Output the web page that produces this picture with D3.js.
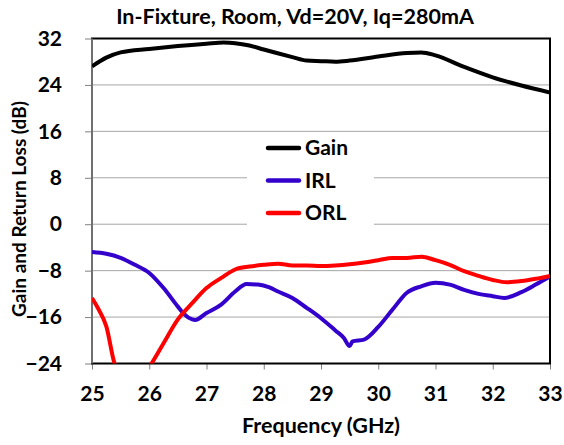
<!DOCTYPE html>
<html><head><meta charset="utf-8">
<script src="https://cdn.jsdelivr.net/npm/d3@7"></script>
<style>body{margin:0;background:#fff}svg{display:block}text{font-family:Lato,"Open Sans",sans-serif;font-weight:bold}</style>
</head><body>
<svg id="c" width="564" height="445"></svg>
<script>
const freqGain = [25,25.25,25.5,26,26.5,27,27.3,27.5,27.75,28,28.5,28.75,29,29.25,29.5,30,30.5,30.75,31,31.5,32,32.5,33];
const gain     = [27.2,28.7,29.6,30.2,30.7,31.1,31.3,31.2,30.8,30.1,28.8,28.2,28.1,28.0,28.2,28.9,29.5,29.6,29.1,27.1,25.3,23.9,22.7];

const freqIRL = [25,25.25,25.5,25.75,26,26.25,26.5,26.6,26.75,26.8,27,27.25,27.5,27.7,27.9,28.1,28.25,28.5,28.75,29,29.25,29.4,29.5,29.55,29.75,30,30.25,30.5,30.75,31,31.25,31.5,31.75,32,32.2,32.5,32.75,33];
const irl     = [-4.8,-5.1,-5.8,-7.0,-8.4,-11.0,-14.2,-15.4,-16.4,-16.5,-15.3,-13.9,-11.6,-10.3,-10.4,-10.9,-11.6,-12.7,-14.4,-16.2,-18.3,-19.6,-21.0,-20.2,-19.9,-17.7,-14.7,-11.8,-10.7,-10.1,-10.4,-11.3,-12.0,-12.4,-12.7,-11.7,-10.4,-9.0];

const freqORL = [25,25.1,25.25,25.4,25.7,26.04,26.25,26.5,26.75,27,27.25,27.5,27.75,28,28.25,28.5,28.75,29,29.25,29.5,29.75,30,30.25,30.5,30.75,31,31.25,31.5,31.75,32,32.25,32.5,32.75,33];
const orl     = [-12.7,-14.4,-17.6,-24.2,-28,-24,-20.5,-16.4,-13.6,-11.0,-9.3,-7.8,-7.3,-7.0,-6.8,-7.1,-7.1,-7.2,-7.1,-6.9,-6.6,-6.2,-5.8,-5.8,-5.6,-6.2,-7.0,-8.1,-8.9,-9.6,-10.0,-9.8,-9.4,-8.9];

const xTicks = [25,26,27,28,29,30,31,32,33];
const yTicks = [-24,-16,-8,0,8,16,24,32];
const seriesNames = ["Gain","IRL","ORL"];
const seriesColors = ["#000000","#3300CC","#FF0000"];

const L=92,R=550,T=38.5,B=363.5;
const svg=d3.select("#c");
const x=d3.scaleLinear().domain([25,33]).range([L,R]);
const y=d3.scaleLinear().domain([-24,32]).range([B,T]);

svg.append("defs").append("clipPath").attr("id","clip").append("rect")
  .attr("x",L).attr("y",T).attr("width",R-L).attr("height",B-T);

// gridlines
svg.append("g").selectAll("line").data(yTicks.filter(v=>v>-24&&v<32)).join("line")
  .attr("x1",L).attr("x2",R).attr("y1",d=>y(d)).attr("y2",d=>y(d))
  .attr("stroke","#a6a6a6").attr("stroke-width",1);

// axes
const yAxis=svg.append("g").attr("transform",`translate(${L},0)`)
  .call(d3.axisLeft(y).tickValues(yTicks).tickSize(7).tickPadding(23));
const xAxis=svg.append("g").attr("transform",`translate(0,${B})`)
  .call(d3.axisBottom(x).tickValues(xTicks).tickSize(6).tickPadding(17));
[yAxis,xAxis].forEach(a=>{
  a.select(".domain").remove();
  a.selectAll("line").attr("stroke","#808080");
  a.selectAll("text").attr("fill","#000").style("font-size","21px").style("font-weight","bold");
});

// frame
svg.append("rect").attr("x",L).attr("y",T).attr("width",R-L).attr("height",B-T)
  .attr("fill","none").attr("stroke","#000").attr("stroke-width",2);
svg.append("line").attr("x1",L).attr("x2",L).attr("y1",T).attr("y2",B).attr("stroke","#707070").attr("stroke-width",2);

// legend background
svg.append("rect").attr("x",247).attr("y",134).attr("width",127).attr("height",96).attr("fill","#fff");

const line=d3.line().x(d=>x(d[0])).y(d=>y(d[1])).curve(d3.curveMonotoneX);
const data=[d3.zip(freqGain,gain),d3.zip(freqIRL,irl),d3.zip(freqORL,orl)];
const g=svg.append("g").attr("clip-path","url(#clip)");
data.forEach((d,i)=>{
  g.append("path").datum(d).attr("d",line).attr("fill","none")
   .attr("stroke",seriesColors[i]).attr("stroke-width",4).attr("stroke-linejoin","round");
});

// legend
const lg=svg.append("g");
seriesNames.forEach((n,i)=>{
  const yy=148+i*32.5;
  lg.append("line").attr("x1",268).attr("x2",299).attr("y1",yy).attr("y2",yy)
    .attr("stroke",seriesColors[i]).attr("stroke-width",4.5).attr("stroke-linecap","round");
  lg.append("text").attr("x",305).attr("y",yy+7).style("font-size","21px").text(n);
});

// titles
svg.append("text").attr("x",295).attr("y",24).attr("text-anchor","middle").style("font-size","21.5px")
  .text("In-Fixture, Room, Vd=20V, Iq=280mA");
svg.append("text").attr("x",321).attr("y",433).attr("text-anchor","middle").style("font-size","21.5px")
  .text("Frequency (GHz)");
svg.append("text").attr("transform","translate(26,209) rotate(-90)").attr("text-anchor","middle").style("font-size","19px")
  .text("Gain and Return Loss (dB)");
</script>
</body></html>
